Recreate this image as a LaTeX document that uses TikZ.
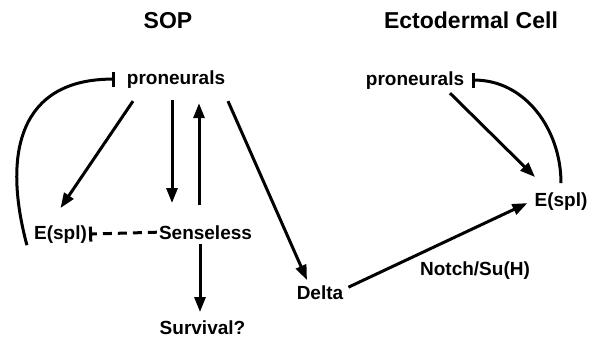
\documentclass[tikz,border=0pt]{standalone}
\usepackage{fontspec}
\setmainfont{Liberation Sans}
\usepackage{tikz}
\usetikzlibrary{arrows.meta, positioning}

\begin{document}
\begin{tikzpicture}[x=1pt, y=-1pt,
    lbl/.style={font=\fontsize{19}{22}\selectfont\bfseries, inner sep=0, anchor=base},
    ttl/.style={font=\fontsize{23}{26}\selectfont\bfseries, inner sep=0, anchor=base},
    act/.style={line width=3pt, -{Triangle[length=15pt, width=11pt]}},
    inh/.style={line width=3pt, -{Bar[width=15pt, line width=3pt]}}]

    \useasboundingbox (0,0) rectangle (592,341);

    % Nodes
    \node[ttl] (sop) at (168, 28) {SOP};
    \node[ttl] (ecto) at (471, 28) {Ectodermal Cell};

    \node[lbl] (proL) at (176, 84) {proneurals};
    \node[lbl] (esplL) at (60.5, 239) {E(spl)};
    \node[lbl] (sens) at (205.5, 239) {Senseless};
    \node[lbl] (surv) at (202.5, 334) {Survival?};
    \node[lbl] (delta) at (320, 299) {Delta};
    \node[lbl] (notch) at (475, 275) {Notch/Su(H)};

    \node[lbl] (proR) at (415, 85) {proneurals};
    \node[lbl] (esplR) at (561, 206) {E(spl)};

    % Arrows
    \draw[act] ([xshift=-43pt, yshift=-13pt]proL.south) -- ([yshift=17pt]esplL.north);
    \draw[act] ([xshift=-4pt, yshift=-12pt]proL.south) -- ([xshift=-33.5pt, yshift=22pt]sens.north);
    \draw[act] ([xshift=-6.5pt, yshift=20pt]sens.north) -- ([xshift=23pt, yshift=-15pt]proL.south);
    \draw[act] ([xshift=52pt, yshift=-13pt]proL.south) -- ([xshift=-13pt, yshift=5pt]delta.north);
    \draw[act] ([xshift=-5.5pt, yshift=-5pt]sens.south) -- ([xshift=-2.5pt, yshift=8pt]surv.north);
    \draw[inh, dash pattern=on 9pt off 6pt] ([xshift=-2pt]sens.west) -- ([xshift=2pt]esplL.east);
    \draw[inh] ([xshift=-7pt, yshift=-2pt]esplL.south west)
        to[out=105, in=180, looseness=1.3] ([xshift=-12pt]proL.west);

    \draw[act] ([xshift=35pt, yshift=-4pt]proR.south) -- ([xshift=-26pt, yshift=15pt]esplR.north);
    \draw[inh] ([yshift=9pt]esplR.north) to[out=90, in=0] ([xshift=8pt]proR.east);
    \draw[act] ([xshift=5pt, yshift=5pt]delta.east) -- ([xshift=-7pt, yshift=-2pt]esplR.west);

\end{tikzpicture}
\end{document}
